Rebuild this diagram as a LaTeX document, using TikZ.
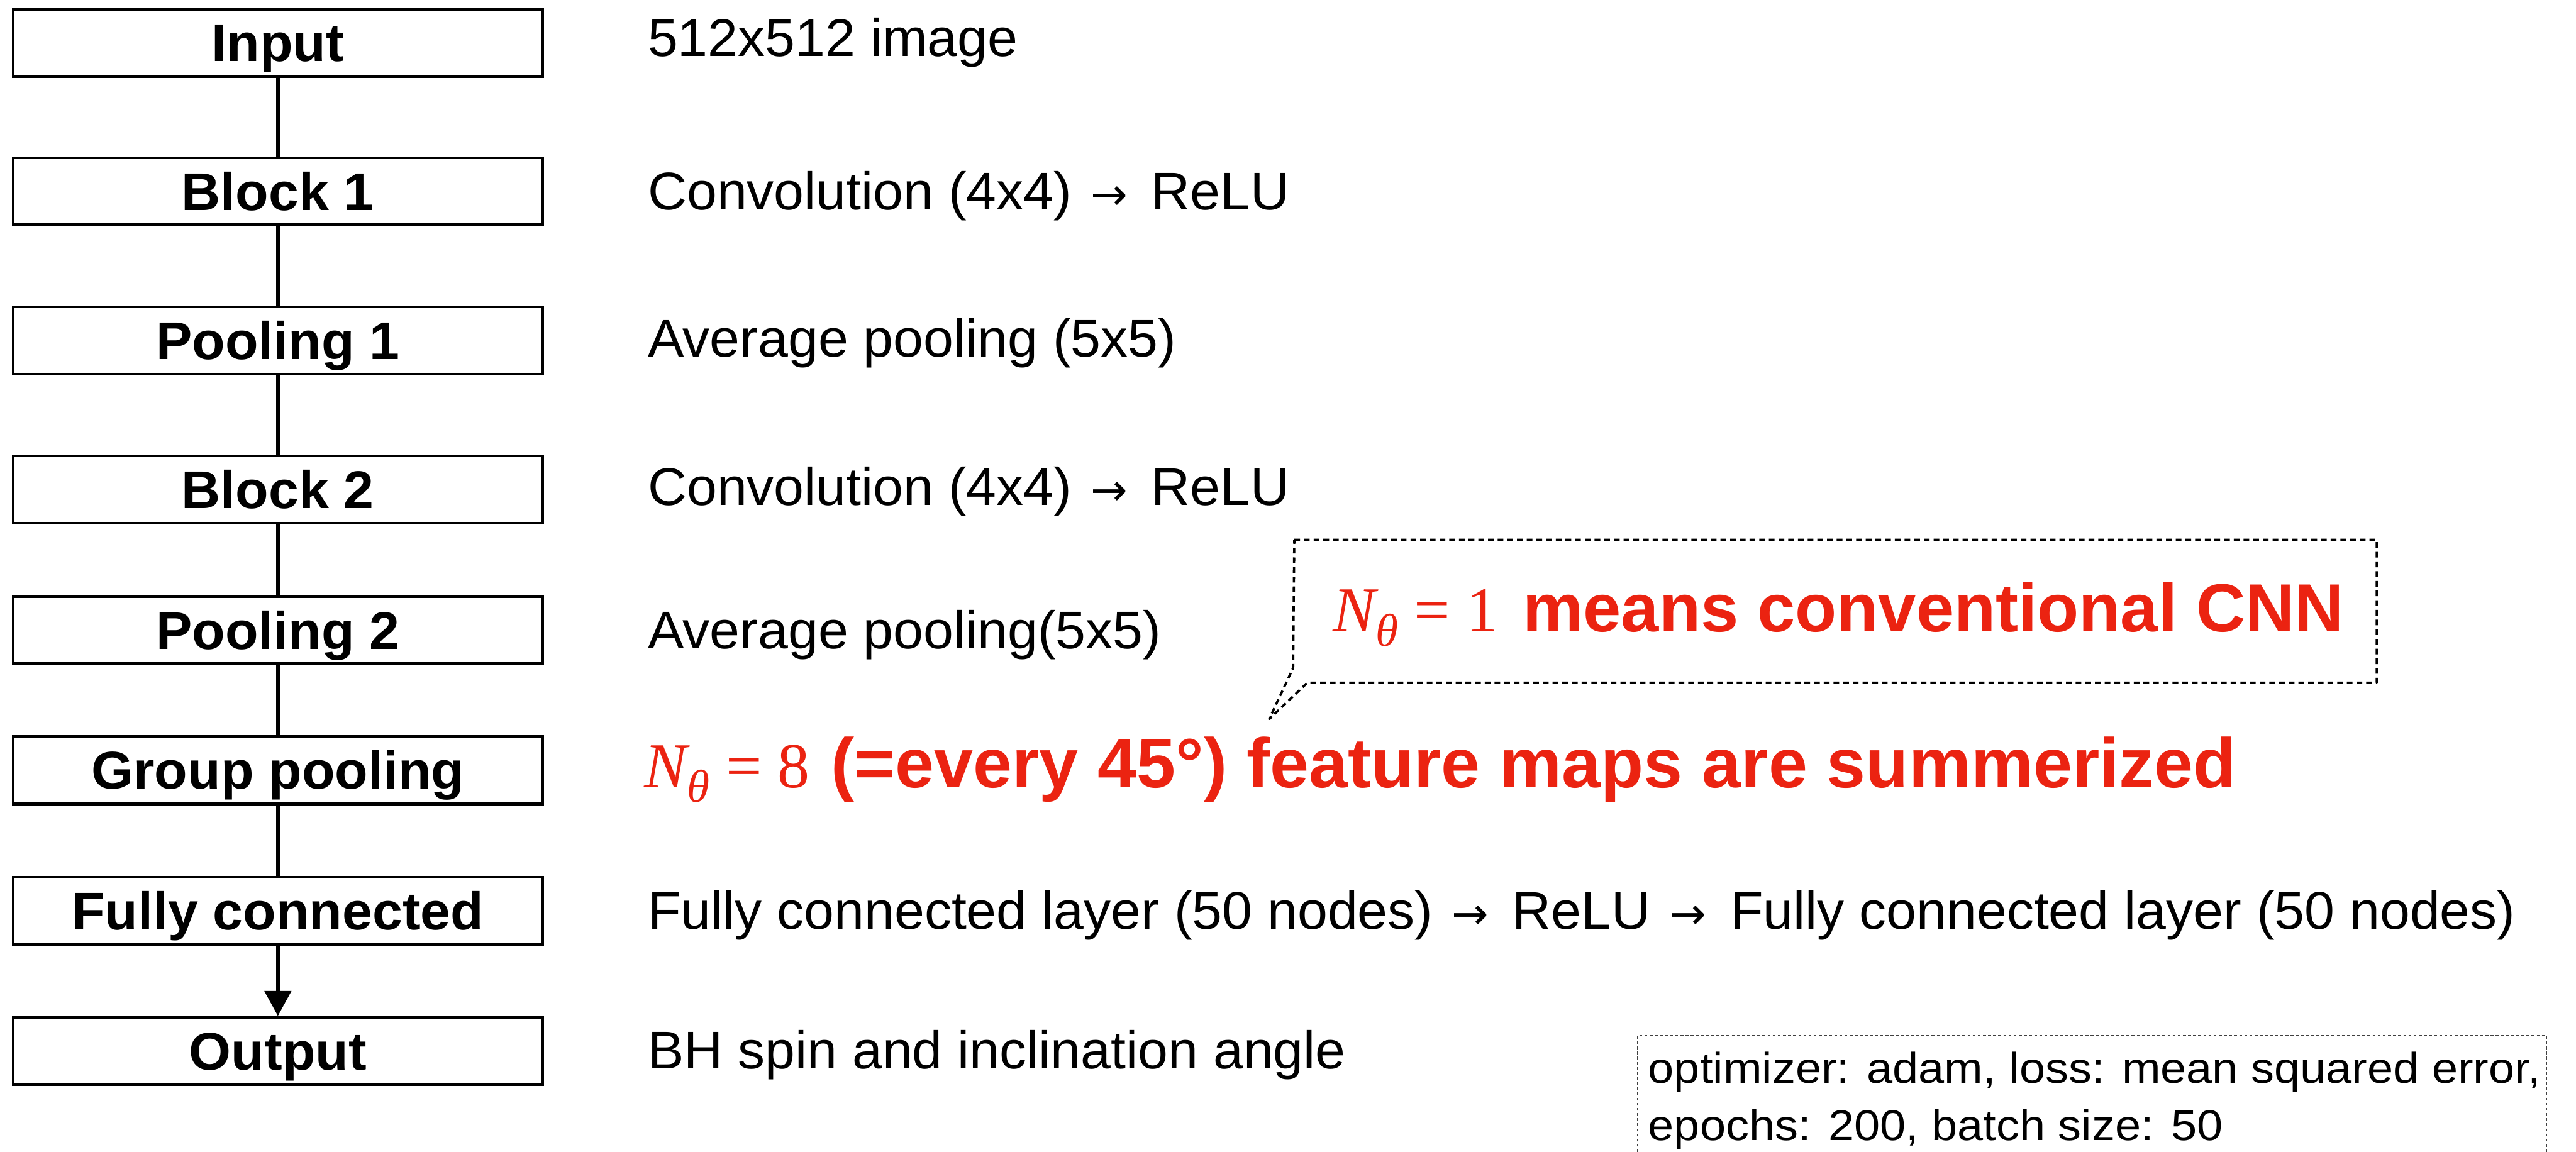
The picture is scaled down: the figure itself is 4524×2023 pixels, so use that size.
\documentclass[tikz,border=0pt]{standalone}
\usepackage{fontspec}
\setmainfont{Liberation Sans}
\newfontfamily\descfont[FakeStretch=1.02]{Liberation Sans}
\newfontfamily\serif{Liberation Serif}
\newfontfamily\widefont[FakeStretch=1.08]{Liberation Sans}
\newfontfamily\arrowfont{DejaVu Sans}
\usetikzlibrary{arrows.meta}
\definecolor{cnnred}{RGB}{235,35,17}

% N_theta written with serif italics, followed by "= #1"
\newcommand{\Ntheta}[1]{{\fontsize{32pt}{36pt}\selectfont\serif\mdseries\itshape N\raisebox{-0.26cm}{\fontsize{23pt}{25pt}\selectfont θ}\upshape\ = #1}}
% light right arrow between processing steps
\newcommand{\rarr}{\hspace{0.35em}{\arrowfont\fontsize{22pt}{24pt}\selectfont →}\hspace{0.45em}}

\tikzset{
  layer/.style={draw, line width=0.05cm, minimum width=9.29cm, minimum height=1.18cm,
    inner sep=0pt, text height=0.66cm, text depth=0pt,
    font=\descfont\fontsize{26.5pt}{30pt}\selectfont\bfseries},
  link/.style={line width=0.07cm},
  desc/.style={anchor=base west, inner sep=0pt, font=\descfont\fontsize{26.5pt}{30pt}\selectfont},
  redline/.style={anchor=base west, inner sep=0pt, text=cnnred,
    font=\fontsize{34pt}{38pt}\selectfont\bfseries},
  callout/.style={line width=0.04cm, dash pattern=on 0.10cm off 0.07cm, line join=round},
  infobox/.style={line width=0.025cm, black!75, dash pattern=on 0.05cm off 0.04cm},
  info/.style={anchor=base west, inner sep=0pt, font=\widefont\fontsize{21.5pt}{24pt}\selectfont}
}

\begin{document}
\begin{tikzpicture}[x=0.01cm, y=-0.01cm]
  \useasboundingbox (0,0) rectangle (4524,2023);

  % layer stack
  \node[layer] (in)  at (488,75)   {Input};
  \node[layer] (b1)  at (488,336)  {Block 1};
  \node[layer] (p1)  at (488,598)  {Pooling 1};
  \node[layer] (b2)  at (488,860)  {Block 2};
  \node[layer] (p2)  at (488,1107) {Pooling 2};
  \node[layer] (gp)  at (488,1353) {Group pooling};
  \node[layer] (fc)  at (488,1600) {Fully connected};
  \node[layer] (out) at (488,1846) {Output};

  \draw[link] (in) -- (b1);
  \draw[link] (b1) -- (p1);
  \draw[link] (p1) -- (b2);
  \draw[link] (b2) -- (p2);
  \draw[link] (p2) -- (gp);
  \draw[link] (gp) -- (fc);
  \draw[link, -{Triangle[length=0.44cm, width=0.46cm]}] (fc) -- (out);

  % descriptions of each layer
  \node[desc] (d1) at (1137,99)   {512x512 image};
  \node[desc] (d2) at (1137,368)  {Convolution (4x4)\rarr ReLU};
  \node[desc] (d3) at (1137,627)  {Average pooling (5x5)};
  \node[desc] (d4) at (1137,887)  {Convolution (4x4)\rarr ReLU};
  \node[desc] (d5) at (1137,1139) {Average pooling(5x5)};
  \node[redline, font=\fontsize{35pt}{38pt}\selectfont\bfseries] (d6) at (1131,1383)
    {\Ntheta{8}\hspace{0.3em}(=every 45°) feature maps are summerized};
  \node[desc] (d7) at (1137,1632) {Fully connected layer (50 nodes)\rarr ReLU\rarr Fully connected layer (50 nodes)};
  \node[desc] (d8) at (1137,1877) {BH spin and inclination angle};

  % speech-bubble note
  \coordinate (tip) at (2229,1263);
  \draw[callout] (2273,948) -- (4174,948) -- (4174,1199) -- (2296,1199) -- (tip)
    -- (2271,1173) -- cycle;
  \node[redline] (note) at (2340,1109) {\Ntheta{1}\hspace{0.36em}means conventional CNN};

  % training settings
  \draw[infobox] (2876,2023) -- (2876,1819) -- (4472,1819) -- (4472,2023);
  \node[info] (opt) at (2894,1902) {optimizer: adam, loss: mean squared error,};
  \node[info] (ep)  at (2894,2003) {epochs: 200, batch size: 50};
\end{tikzpicture}
\end{document}
